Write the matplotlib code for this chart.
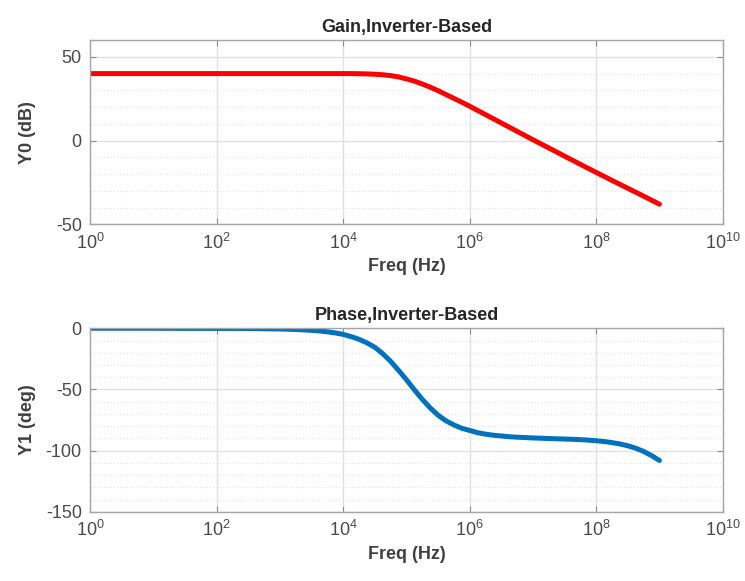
import matplotlib
matplotlib.use("Agg")
import matplotlib.pyplot as plt
from matplotlib.ticker import FixedLocator, MultipleLocator
import numpy as np

plt.rcParams['font.family'] = ['Liberation Sans', 'DejaVu Sans']
plt.rcParams['mathtext.fontset'] = 'custom'
plt.rcParams['mathtext.rm'] = 'Liberation Sans'
plt.rcParams['mathtext.it'] = 'Liberation Sans:italic'
plt.rcParams['mathtext.bf'] = 'Liberation Sans:bold'
plt.rcParams['axes.unicode_minus'] = False

# frequency points (log10 of Hz), denser where the curves bend
freq_exp = [0.0, 0.5, 1.0, 1.5, 2.0, 2.5, 3.0, 3.25,
            3.5, 3.625, 3.75, 3.875,
            4.0, 4.125, 4.25, 4.375, 4.5, 4.625, 4.75, 4.875,
            5.0, 5.125, 5.25, 5.375, 5.5, 5.625, 5.75, 5.875,
            6.0, 6.125, 6.25, 6.375, 6.5, 6.625, 6.75, 6.875,
            7.0, 7.125, 7.25, 7.375, 7.5, 7.625, 7.75, 7.875,
            8.0, 8.125, 8.25, 8.375, 8.5, 8.625, 8.75, 8.875,
            9.0]

# gain in dB
gain_db = [40.0, 40.0, 40.0, 40.0, 40.0, 40.0, 40.0, 40.0,
           40.0, 40.0, 40.0, 40.0,
           40.0, 40.0, 39.9, 39.8, 39.6, 39.3, 38.8, 38.0,
           36.8, 35.5, 33.8, 31.9, 29.8, 27.5, 25.2, 22.9,
           20.5, 18.0, 15.5, 13.0, 10.5, 8.0, 5.5, 3.0,
           0.5, -1.95, -4.4, -6.85, -9.3, -11.75, -14.2, -16.6,
           -19.0, -21.4, -23.8, -26.15, -28.5, -30.85, -33.2, -35.6,
           -38.0]

# phase in degrees
phase_deg = [0.0, 0.0, 0.0, -0.1, -0.1, -0.2, -0.6, -1.0,
             -1.7, -2.2, -2.9, -3.8,
             -5.0, -6.8, -9.0, -11.9, -15.5, -20.7, -27.0, -34.3,
             -42.0, -50.2, -58.0, -65.0, -71.0, -75.6, -79.0, -81.7,
             -83.5, -85.3, -86.5, -87.4, -88.0, -88.6, -89.0, -89.3,
             -89.6, -89.8, -90.1, -90.3, -90.5, -90.7, -91.0, -91.4,
             -91.9, -92.5, -93.4, -94.5, -96.0, -98.0, -100.6, -104.0,
             -108.0]

freq = np.power(10.0, freq_exp)

x_ticks = [1e0, 1e2, 1e4, 1e6, 1e8, 1e10]

fig = plt.figure(figsize=(7.45, 5.81), dpi=100)
ax1 = fig.add_axes([0.121, 0.614, 0.849, 0.317])
ax2 = fig.add_axes([0.121, 0.119, 0.849, 0.316])


def style_axes(ax, yticks, ylim):
    ax.set_xscale('log')
    ax.set_xlim(1e0, 1e10)
    ax.set_ylim(*ylim)
    ax.xaxis.set_major_locator(FixedLocator(x_ticks))
    ax.xaxis.set_minor_locator(FixedLocator([]))
    ax.set_yticks(yticks)
    ax.yaxis.set_minor_locator(MultipleLocator(10))
    ax.grid(True, which='major', color='#e1e1e1', linewidth=1.0, linestyle='-')
    ax.grid(True, which='minor', axis='y', color='#e6e6e6', linewidth=0.9, linestyle=':')
    ax.set_axisbelow(True)
    for sp in ax.spines.values():
        sp.set_color('#a6a6a6')
        sp.set_linewidth(1.0)
    ax.tick_params(which='major', direction='in', length=4, width=0.8, color='#8c8c8c',
                   top=True, right=True, labelsize=13, labelcolor='#4a4a4a', pad=6)
    ax.tick_params(which='minor', length=0)


ax1.plot(freq, gain_db, color='#ff0000', linewidth=3.6,
         solid_capstyle='round', solid_joinstyle='round')
style_axes(ax1, [-50, 0, 50], (-50, 60))
ax1.set_title('Gain,Inverter-Based', fontsize=13, fontweight='bold', color='#262626', pad=6)
ax1.set_xlabel('Freq (Hz)', fontsize=13, fontweight='bold', color='#404040', labelpad=4)
ax1.set_ylabel('Y0 (dB)', fontsize=13, fontweight='bold', color='#404040', labelpad=14)

ax2.plot(freq, phase_deg, color='#0072bd', linewidth=3.6,
         solid_capstyle='round', solid_joinstyle='round')
style_axes(ax2, [-150, -100, -50, 0], (-150, 0))
ax2.set_title('Phase,Inverter-Based', fontsize=13, fontweight='bold', color='#262626', pad=6)
ax2.set_xlabel('Freq (Hz)', fontsize=13, fontweight='bold', color='#404040', labelpad=4)
ax2.set_ylabel('Y1 (deg)', fontsize=13, fontweight='bold', color='#404040', labelpad=7)

fig.savefig('out.png', dpi=100)
